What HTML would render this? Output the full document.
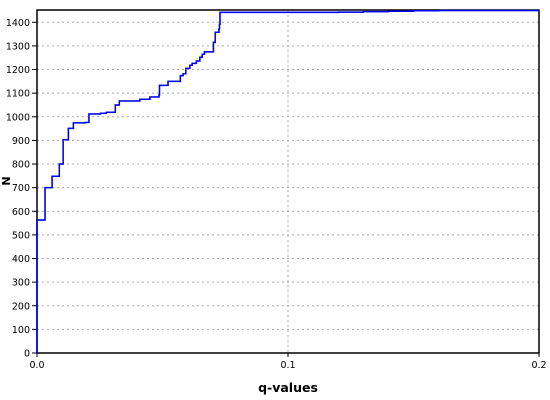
<!DOCTYPE html>
<html><head><meta charset="utf-8"><style>
html,body{margin:0;padding:0;background:#fff;}
svg{display:block;font-family:"DejaVu Sans","Liberation Sans",sans-serif;}
</style></head><body>
<svg id="chart" width="550" height="400">
</svg>
<script>
const qValues=[0,0.0032,0.006,0.0089,0.0104,0.0125,0.0145,0.0191,0.0207,0.0253,0.0276,0.0312,0.0328,0.041,0.045,0.0486,0.0488,0.0522,0.0571,0.0582,0.0593,0.0609,0.0618,0.0635,0.0649,0.0658,0.0667,0.0703,0.071,0.0725,0.0727,0.0729,0.12,0.13,0.14,0.15,0.16,0.2];
const nValues=[563,700,748,800,903,951,974,976,1012,1015,1019,1050,1067,1074,1084,1092,1133,1150,1174,1182,1205,1218,1226,1236,1252,1265,1275,1315,1358,1372,1392,1442,1443,1445,1447,1449,1450,1450];
const yTicks=[0,100,200,300,400,500,600,700,800,900,1000,1100,1200,1300,1400];
const xTicks=[0,0.1,0.2];
const xTickLabels=["0.0","0.1","0.2"];

const L=37,R=539,T=10,B=353;
const xs=v=>L+(v-0)/(0.2)*(R-L);
const ys=v=>B-v*(B-22.3)/1400;
const svg=document.getElementById('chart');
const NS='http://www.w3.org/2000/svg';
function mk(tag,attrs,parent){const e=document.createElementNS(NS,tag);for(const k in attrs)e.setAttribute(k,attrs[k]);(parent||svg).appendChild(e);return e;}

yTicks.forEach(t=>{
  const y=ys(t);
  const g=mk('line',{x1:L,x2:R,y1:y,y2:y,stroke:'#aaa','stroke-dasharray':'2,3','stroke-width':1});
  
  
  const tk=mk('line',{x1:L-5,x2:L,y1:y,y2:y,stroke:'#000'});
  
  
  const tx=mk('text',{x:L-7,y:y+3.5,'text-anchor':'end','font-size':9.5,fill:'#000'});
  tx.textContent=t;
  
  
});
xTicks.forEach((t,i)=>{
  const x=xs(t);
  if(i===1){const g=mk('line',{x1:x,x2:x,y1:T,y2:B,stroke:'#aaa','stroke-dasharray':'2,3'});
  
  }
  const tk=mk('line',{x1:x,x2:x,y1:B,y2:B+4,stroke:'#000'});
  
  
  const tx=mk('text',{x:x,y:B+15,'text-anchor':'middle','font-size':9.5,fill:'#000'});
  tx.textContent=xTickLabels[i];
  
  
});
const fr=mk('rect',{x:L,y:T,width:R-L,height:B-T,fill:'none',stroke:'#000','stroke-width':1.5});



let d='M'+xs(0)+','+ys(0);
for(let i=0;i<qValues.length;i++){
  d+=' L'+xs(qValues[i])+','+(i===0?ys(0):ys(nValues[i-1]))+' L'+xs(qValues[i])+','+ys(nValues[i]);
}
const black=mk('path',{d:d,fill:'none',stroke:'#000','stroke-width':1.2});


const blue=mk('path',{d:d,fill:'none',stroke:'#0000ff','stroke-width':1.5});



const xl=mk('text',{x:(L+R)/2,y:392,'text-anchor':'middle','font-size':12.5,'font-weight':'bold'});
xl.textContent='q-values';


const yl=mk('text',{x:0,y:0,'text-anchor':'middle','font-size':11,'font-weight':'bold',transform:'translate(10,181) rotate(-90)'});
yl.textContent='N';


</script>
</body></html>
